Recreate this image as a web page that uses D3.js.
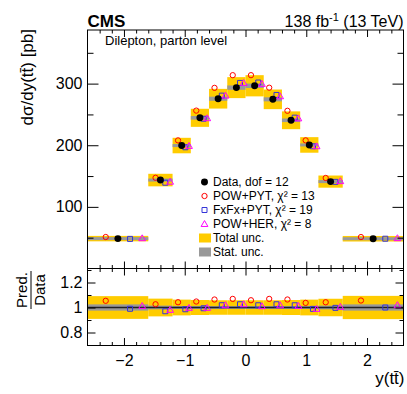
<!DOCTYPE html>
<html><head><meta charset="utf-8">
<script src="https://cdn.jsdelivr.net/npm/d3@7"></script>
<style>
html,body{margin:0;padding:0;background:#fff;}
svg{display:block;font-family:"Liberation Sans",Arial,Helvetica,sans-serif;}
</style></head>
<body>
<svg id="c" width="407" height="394"></svg>
<script>
// ---- data ----
const binEdges = [-2.6,-1.6,-1.2,-0.9,-0.6,-0.3,0,0.3,0.6,0.9,1.2,1.6,2.6];
const dataVals = [48.5,143.5,199.5,244.5,275.5,293.5,296.5,274.5,240.5,200.5,141,48.3];
const powPyt   = [51.1,147.2,207.9,256.2,293.1,313.7,313.7,293.4,255.9,207.9,146.9,51.0];
const fxfxPyt  = [48.0,139.2,196.7,243.0,280.5,301.1,301.8,281.6,244.8,198.3,140.6,48.3];
const powHer   = [49.1,140.8,198.9,243.8,280.5,301.1,299.5,279.4,243.6,198.3,141.7,49.2];
const totRel   = [0.091,0.071,0.063,0.060,0.058,0.058,0.058,0.058,0.060,0.063,0.070,0.093];
const statRel  = [0.025,0.015,0.012,0.012,0.012,0.012,0.012,0.012,0.012,0.012,0.015,0.025];
const mainYMajor = [100,200,300];
const mainYMinor = [50,150,250,350];
const ratioYMajor = [0.8,1,1.2];
const ratioYMinor = [0.7,0.9,1.1,1.3];
const xMajor = [-2,-1,0,1,2];
const legendLabels = ["Data, dof = 12","POW+PYT, \u03C7\u00B2 = 13","FxFx+PYT, \u03C7\u00B2 = 19","POW+HER, \u03C7\u00B2 = 8","Total unc.","Stat. unc."];

// ---- layout ----
const L=87.5, R=403.5, T=30, M=268.5, B=345.5;
const svg = d3.select("#c");
const x = d3.scaleLinear().domain([-2.6,2.6]).range([L,R]);
const yM = d3.scaleLinear().domain([0,387]).range([M,T]);
const yR = d3.scaleLinear().domain([0.696,1.312]).range([B,M]);
const xMinor = d3.range(-26,27,2).map(v=>v/10).filter(v=>Math.abs(v-Math.round(v))>1e-6 && v>-2.6+1e-6 && v<2.6-1e-6);
const fmt = d3.format("~g");

const C = {tot:"#ffcc00", stat:"#999999", red:"#ff0000", blue:"#3535d8", mag:"#ff00ff"};
const bins = dataVals.map((d,i)=>({i, lo:binEdges[i], hi:binEdges[i+1], c:(binEdges[i]+binEdges[i+1])/2, w:binEdges[i+1]-binEdges[i], d, pp:powPyt[i], fx:fxfxPyt[i], ph:powHer[i], tot:totRel[i], st:statRel[i]}));

const sym = {
  circ: d3.symbol().type(d3.symbolCircle).size(22),
  sq: d3.symbol().type(d3.symbolSquare).size(25),
  tri: d3.symbol().type(d3.symbolTriangle).size(20),
  dot: d3.symbol().type(d3.symbolCircle).size(38)
};

function drawPanel(g, yS, valFn, isRatio){
  g.selectAll(".tot").data(bins).join("rect")
    .attr("x",b=>x(b.lo)).attr("width",b=>x(b.hi)-x(b.lo))
    .attr("y",b=>yS(valFn(b,"d")*(1+b.tot))).attr("height",b=>yS(valFn(b,"d")*(1-b.tot))-yS(valFn(b,"d")*(1+b.tot)))
    .attr("fill",C.tot);
  g.selectAll(".st").data(bins).join("rect")
    .attr("x",b=>x(b.lo)).attr("width",b=>x(b.hi)-x(b.lo))
    .attr("y",b=>{const h=Math.max(yS(valFn(b,"d")*(1-b.st))-yS(valFn(b,"d")*(1+b.st)),3);return yS(valFn(b,"d"))-h/2;})
    .attr("height",b=>Math.max(yS(valFn(b,"d")*(1-b.st))-yS(valFn(b,"d")*(1+b.st)),3))
    .attr("fill",C.stat);
  if(isRatio){
    g.append("line").attr("x1",L).attr("x2",R).attr("y1",yS(1)).attr("y2",yS(1)).attr("stroke","#222").attr("stroke-width",1.5);
  }
  const specs = [
    {k:"pp", off:-0.2, s:sym.circ, col:C.red, tri:false},
    {k:"fx", off:0.2, s:sym.sq, col:C.blue, tri:false},
    {k:"ph", off:0.4, s:sym.tri, col:C.mag, tri:true}
  ];
  specs.forEach(sp=>{
    g.selectAll(".m"+sp.k).data(bins).join("path")
      .attr("d",sp.s)
      .attr("transform",b=>`translate(${x(b.c+sp.off*b.w)},${yS(valFn(b,sp.k))+(sp.tri?0.5:0)})`)
      .attr("fill","none").attr("stroke",sp.col).attr("stroke-width",1);
  });
  if(!isRatio){
    g.selectAll(".dd").data(bins).join("path")
      .attr("d",sym.dot)
      .attr("transform",b=>`translate(${x(b.c)},${yS(b.d)})`)
      .attr("fill","#000");
  }
}

const gMain = svg.append("g");
drawPanel(gMain, yM, (b,k)=>b[k], false);
const gRat = svg.append("g");
drawPanel(gRat, yR, (b,k)=>k==="d"?1:b[k]/b.d, true);

// ---- axes ----
function ax(gen, tr, size, vals, labels){
  const a = gen.tickValues(vals).tickSize(size).tickPadding(5);
  a.tickFormat(labels ? fmt : "");
  const g = svg.append("g").attr("transform",tr).call(a);
  g.select(".domain").remove();
  g.selectAll("line").attr("stroke","#000").attr("stroke-width",1);
  g.selectAll("text").attr("fill","#000").attr("font-size",16).attr("font-family","Liberation Sans, Arial, sans-serif");
  return g;
}
ax(d3.axisLeft(yM), `translate(${L},0)`, -11, mainYMajor, true);
ax(d3.axisLeft(yM), `translate(${L},0)`, -6, mainYMinor, false);
ax(d3.axisRight(yM), `translate(${R},0)`, -11, mainYMajor, false);
ax(d3.axisRight(yM), `translate(${R},0)`, -6, mainYMinor, false);
ax(d3.axisTop(x), `translate(0,${T})`, -7, xMajor, false);
ax(d3.axisTop(x), `translate(0,${T})`, -3.5, xMinor, false);
ax(d3.axisBottom(x), `translate(0,${M})`, -7, xMajor, false);
ax(d3.axisBottom(x), `translate(0,${M})`, -3.5, xMinor, false);
ax(d3.axisLeft(yR), `translate(${L},0)`, -8, ratioYMajor, true);
ax(d3.axisLeft(yR), `translate(${L},0)`, -4, ratioYMinor, false);
ax(d3.axisRight(yR), `translate(${R},0)`, -8, ratioYMajor, false);
ax(d3.axisRight(yR), `translate(${R},0)`, -4, ratioYMinor, false);
ax(d3.axisTop(x), `translate(0,${M})`, -7, xMajor, false);
ax(d3.axisTop(x), `translate(0,${M})`, -3.5, xMinor, false);
const xb = ax(d3.axisBottom(x), `translate(0,${B})`, -7.5, xMajor, true);
xb.selectAll("text").attr("y",9).attr("dy","0.71em");
ax(d3.axisBottom(x), `translate(0,${B})`, -3.5, xMinor, false);

svg.append("rect").attr("x",L).attr("y",T).attr("width",R-L).attr("height",M-T).attr("fill","none").attr("stroke","#000").attr("stroke-width",1);
svg.append("rect").attr("x",L).attr("y",M).attr("width",R-L).attr("height",B-M).attr("fill","none").attr("stroke","#000").attr("stroke-width",1);

// ---- texts ----
svg.append("text").attr("x",L).attr("y",26.5).attr("font-weight","bold").attr("font-size",17).text("CMS");
const lum = svg.append("text").attr("x",R).attr("y",27).attr("text-anchor","end").attr("font-size",16);
lum.append("tspan").text("138 fb");
lum.append("tspan").attr("font-size",11).attr("dy",-6).text("-1");
lum.append("tspan").attr("dy",6).text(" (13 TeV)");
svg.append("text").attr("x",105).attr("y",45).attr("font-size",13).text("Dilepton, parton level");

svg.append("text").attr("transform","translate(33,29) rotate(-90)").attr("text-anchor","end").attr("font-size",17)
  .text("d\u03C3/dy(tt\u0304) [pb]");
const rt = svg.append("g").attr("transform","translate(31,290) rotate(-90)");
rt.append("text").attr("x",0).attr("y",-4).attr("text-anchor","middle").attr("font-size",15).text("Pred.");
rt.append("line").attr("x1",-19).attr("x2",19).attr("y1",0).attr("y2",0).attr("stroke","#000").attr("stroke-width",1);
rt.append("text").attr("x",0).attr("y",14).attr("text-anchor","middle").attr("font-size",15).text("Data");
svg.append("text").attr("x",R+1).attr("y",384).attr("text-anchor","end").attr("font-size",17).text("y(tt\u0304)");

// ---- legend ----
const legY = d3.range(legendLabels.length).map(i=>182+14*i);
const lg = svg.append("g");
const mx = 204.5, tx = 213;
lg.append("path").attr("d",sym.dot).attr("transform",`translate(${mx},${legY[0]})`).attr("fill","#000");
lg.append("path").attr("d",sym.circ).attr("transform",`translate(${mx},${legY[1]})`).attr("fill","none").attr("stroke",C.red);
lg.append("path").attr("d",sym.sq).attr("transform",`translate(${mx},${legY[2]})`).attr("fill","none").attr("stroke",C.blue);
lg.append("path").attr("d",sym.tri).attr("transform",`translate(${mx},${legY[3]+0.5})`).attr("fill","none").attr("stroke",C.mag);
lg.append("rect").attr("x",199).attr("y",legY[4]-4.5).attr("width",12).attr("height",9).attr("fill",C.tot);
lg.append("rect").attr("x",199).attr("y",legY[5]-4.5).attr("width",12).attr("height",9).attr("fill",C.stat);
legendLabels.forEach((t,i)=>{
  lg.append("text").attr("x",tx).attr("y",legY[i]).attr("dy","0.36em").attr("font-size",12).text(t);
});
</script>
</body></html>
